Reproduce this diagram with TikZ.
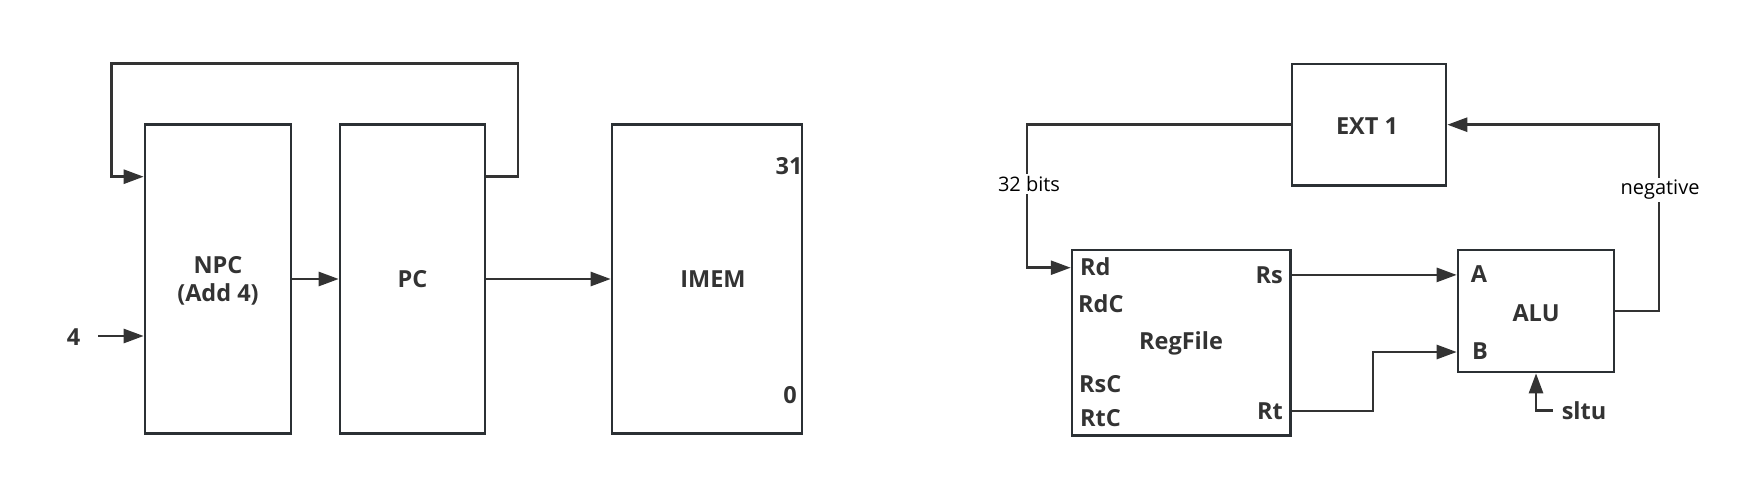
\documentclass[tikz,border=0pt]{standalone}
\usepackage{fontspec}
\setmainfont{Open Sans}
\usetikzlibrary{arrows.meta}
\definecolor{ink}{HTML}{333333}
\definecolor{boxc}{HTML}{2B3034}
\tikzset{
  blk/.style={draw=boxc, line width=2.6pt, rectangle, inner sep=0pt},
  wire/.style={draw=ink, line width=2.6pt},
  arr/.style={wire, -{Triangle[length=20pt,width=14pt]}},
  bl/.style={text=ink, font=\bfseries\fontsize{23.5}{28}\selectfont, inner sep=0pt},
  rl/.style={text=black, font=\fontsize{20}{24}\selectfont, fill=white, inner sep=2pt}
}
\begin{document}
\begin{tikzpicture}[x=1pt,y=-1pt]
\useasboundingbox (0,0) rectangle (1752,479);
% left part
\node[blk, minimum width=146pt, minimum height=309.5pt] (npc) at (218,279) {};
\node[blk, minimum width=145pt, minimum height=309.5pt] (pc) at (412.5,279) {};
\node[blk, minimum width=190pt, minimum height=309.5pt] (imem) at (707,279) {};
\node[bl, align=center] (npct) at (218,281) {NPC\\(Add 4)};
\node[bl] (pct) at (412.5,279) {PC};
\node[bl] (imemt) at (713,279) {IMEM};
\node[bl] (t31) at (789,166) {31};
\node[bl] (t0) at (790,395) {0};
\node[bl] (four) at (73.7,337) {4};
\coordinate (fourS) at (98,336);
\coordinate (yloop) at (0,176.7);
\coordinate (loopR) at (518,63.3);
\coordinate (loopL) at (111.7,63.3);
\draw[arr] (pc.east |- yloop) -| (loopR) -| (loopL) |- (npc.west |- yloop);
\draw[arr] (npc.east) -- (pc.west);
\draw[arr] (pc.east) -- (imem.west);
\draw[arr] (fourS) -- (npc.west |- fourS);
% right part
\node[blk, minimum width=154pt, minimum height=121.5pt] (ext) at (1369,124.7) {};
\node[blk, minimum width=218.5pt, minimum height=185.7pt] (rf) at (1181.3,342.9) {};
\node[blk, minimum width=156pt, minimum height=122pt] (alu) at (1536,311) {};
\node[bl] (extt) at (1367,125.7) {EXT 1};
\node[bl] (rft) at (1181,343) {RegFile};
\node[bl] (alut) at (1536,313) {ALU};
\node[bl, anchor=west] (rd) at (1080,267) {Rd};
\node[bl, anchor=west] (rdc) at (1078,304) {RdC};
\node[bl, anchor=west] (rsc) at (1079,384) {RsC};
\node[bl, anchor=west] (rtc) at (1080,418) {RtC};
\node[bl, anchor=east] (rs) at (1283,275) {Rs};
\node[bl, anchor=east] (rt) at (1283,411) {Rt};
\node[bl] (ta) at (1479,274) {A};
\node[bl] (tb) at (1480,351.5) {B};
\node[bl] (sltu) at (1584,411) {sltu};
\coordinate (c32) at (1027,267.7);
\coordinate (rsy) at (0,274.9);
\coordinate (rty) at (0,411);
\coordinate (bendB) at (1373,352);
\coordinate (negx) at (1659,0);
\coordinate (sltuS) at (1552.7,410.7);
\draw[arr] (ext.west) -| (c32) -- (rf.west |- c32);
\draw[arr] (rf.east |- rsy) -- (alu.west |- rsy);
\draw[arr] (rf.east |- rty) -| (bendB) -- (alu.west |- bendB);
\draw[arr] (alu.east) -| (negx |- ext.east) -- (ext.east);
\draw[arr] (sltuS) -| (alu.south);
\node[rl] (bits) at (1029,184) {32 bits};
\node[rl] (neg) at (1660,190) {negative};
\end{tikzpicture}
\end{document}
